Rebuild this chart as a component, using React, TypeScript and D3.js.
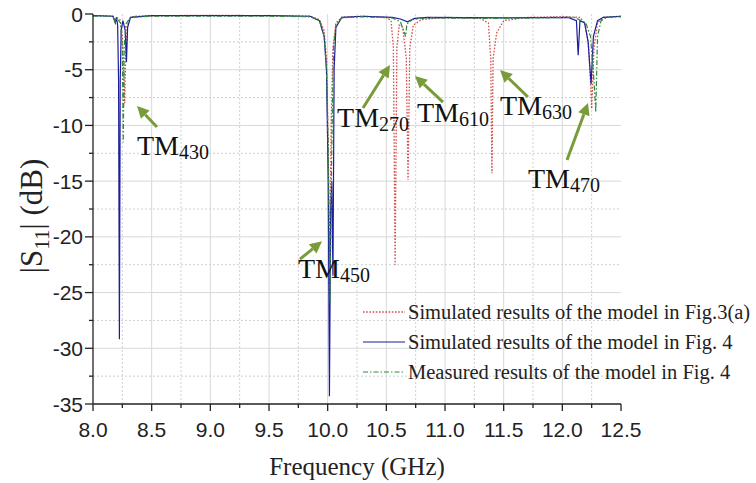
import React from "react";
import * as d3 from "d3";

// Frequency sweep points (GHz, dB) for each trace
const simFig3a: [number, number][] = [
  [8.0, -0.15], [8.1, -0.15], [8.17, -0.2], [8.19, -0.6], [8.2, -0.3], [8.23, -0.5],
  [8.25, -2.0], [8.262, -5], [8.27, -8.0], [8.278, -4], [8.29, -1.2], [8.31, -0.4],
  [8.35, -0.2], [8.6, -0.15], [9.0, -0.12], [9.5, -0.15], [9.85, -0.2], [9.93, -0.5],
  [9.97, -1.5], [9.99, -4], [10.005, -12], [10.015, -25], [10.03, -10], [10.045, -3],
  [10.07, -0.8], [10.12, -0.3], [10.3, -0.2], [10.5, -0.3], [10.54, -0.6], [10.56, -3],
  [10.575, -22.5], [10.59, -3], [10.61, -1], [10.64, -1.2], [10.67, -4], [10.685, -14.9],
  [10.7, -3], [10.73, -1], [10.8, -0.5], [11.0, -0.3], [11.3, -0.4], [11.37, -0.8],
  [11.39, -4], [11.4, -14.3], [11.41, -4], [11.44, -1.7], [11.5, -0.6], [11.7, -0.3],
  [12.0, -0.25], [12.15, -0.3], [12.19, -0.8], [12.22, -2.5], [12.24, -6], [12.25, -8.5],
  [12.27, -3], [12.3, -0.8], [12.35, -0.3], [12.5, -0.2],
];

const simFig4: [number, number][] = [
  [8.0, -0.15], [8.17, -0.2], [8.19, -0.8], [8.2, -0.3], [8.21, -1], [8.218, -6],
  [8.225, -29.2], [8.232, -6], [8.24, -1.5], [8.255, -0.6], [8.275, -1.5], [8.285, -4.3],
  [8.295, -1.2], [8.32, -0.3], [8.5, -0.15], [9.0, -0.15], [9.5, -0.15], [9.85, -0.2],
  [9.93, -0.6], [9.97, -2], [9.99, -5], [10.005, -15], [10.015, -34.3], [10.025, -18],
  [10.035, -15], [10.045, -23.5], [10.055, -5], [10.07, -1.2], [10.12, -0.3], [10.3, -0.2],
  [10.55, -0.3], [10.62, -0.45], [10.68, -0.7], [10.74, -0.4], [10.85, -0.3], [11.5, -0.35],
  [12.05, -0.3], [12.12, -0.6], [12.135, -3.7], [12.15, -0.6], [12.19, -0.8], [12.22, -2.5],
  [12.245, -6.3], [12.265, -2], [12.3, -0.6], [12.35, -0.3], [12.5, -0.2],
];

const measFig4: [number, number][] = [
  [8.0, -0.2], [8.17, -0.2], [8.19, -0.7], [8.205, -0.4], [8.235, -0.8], [8.25, -3],
  [8.258, -11.5], [8.266, -3], [8.28, -0.9], [8.32, -0.3], [8.5, -0.2], [9.0, -0.2],
  [9.5, -0.2], [9.85, -0.25], [9.93, -0.6], [9.97, -2], [9.99, -5], [10.005, -12],
  [10.02, -26], [10.035, -12], [10.05, -3], [10.07, -1], [10.12, -0.35], [10.3, -0.25],
  [10.55, -0.35], [10.62, -0.7], [10.665, -2], [10.675, -0.9], [10.72, -0.5], [10.85, -0.35],
  [11.5, -0.4], [12.1, -0.3], [12.2, -0.8], [12.24, -2], [12.27, -6], [12.285, -8.8],
  [12.3, -2], [12.33, -0.6], [12.38, -0.3], [12.5, -0.25],
];

const xTicks = [8.0, 8.5, 9.0, 9.5, 10.0, 10.5, 11.0, 11.5, 12.0, 12.5];
const yTicks = [0, -5, -10, -15, -20, -25, -30, -35];

const legendLabels = [
  "Simulated results of the model in Fig.3(a)",
  "Simulated results of the model in Fig. 4",
  "Measured results of the model in Fig. 4",
];

// Mode labels: text anchor, arrow tail and arrow head in (GHz, dB)
const modeNames = ["430", "450", "270", "610", "630", "470"];
const modeText: [number, number][] = [
  [8.375, -12.65], [9.747, -23.7], [10.08, -10.14], [10.761, -9.69], [11.469, -9.06], [11.707, -15.6],
];
const modeTail: [number, number][] = [
  [8.545, -10.14], [9.764, -22.0], [10.301, -8.44], [10.983, -7.9], [11.707, -7.45], [12.04, -13.1],
];
const modeHead: [number, number][] = [
  [8.375, -8.26], [9.952, -20.4], [10.531, -4.58], [10.744, -5.56], [11.469, -5.03], [12.219, -7.99],
];

const SANS = "'Liberation Sans', Arial, sans-serif";
const SERIF = "'Liberation Serif', 'Times New Roman', serif";
const ARROW = "#7a9b3a";

export default function App() {
  const W = 756, H = 483;
  const x = d3.scaleLinear().domain([8.0, 12.5]).range([93, 621]);
  const y = d3.scaleLinear().domain([0, -35]).range([14, 404]);

  const line = d3.line<[number, number]>().x((d) => x(d[0])).y((d) => y(d[1]));

  const xMinor = d3.range(8.0, 12.5001, 0.25);
  const yMinor = d3.range(0, -35.001, -2.5);

  const series = [
    { data: simFig3a, color: "#d2504c", dash: "1.6,1.6", width: 1.3 },
    { data: simFig4, color: "#1d1d9c", dash: "none", width: 1.2 },
    { data: measFig4, color: "#2f8a3c", dash: "5,2,1.5,2", width: 1.2 },
  ];

  const arrow = (t: [number, number], h: [number, number], i: number) => {
    const x1 = x(t[0]), y1 = y(t[1]), x2 = x(h[0]), y2 = y(h[1]);
    const ang = Math.atan2(y2 - y1, x2 - x1);
    const L = 12, Wd = 6;
    const bx = x2 - L * Math.cos(ang), by = y2 - L * Math.sin(ang);
    const px = -Math.sin(ang) * Wd, py = Math.cos(ang) * Wd;
    return (
      <g key={"a" + i}>
        <line x1={x1} y1={y1} x2={bx} y2={by} stroke={ARROW} strokeWidth={3} />
        <polygon points={`${x2},${y2} ${bx + px},${by + py} ${bx - px},${by - py}`} fill={ARROW} />
      </g>
    );
  };

  return (
    <svg width={W} height={H} style={{ position: "absolute", left: 0, top: 0, background: "#fff" }}>
      {/* grid */}
      <g>
        {xMinor.filter((v) => v > 8.001 && v < 12.499).map((v, i) => {
          const major = Math.abs(v * 2 - Math.round(v * 2)) < 1e-6;
          return (
            <line key={"gx" + i} x1={x(v)} x2={x(v)} y1={y(0)} y2={y(-35)}
              stroke={major ? "#d8d8d8" : "#cfcfcf"} strokeWidth={1}
              strokeDasharray={major ? "none" : "2,2"} />
          );
        })}
        {yMinor.filter((v) => v < -0.001 && v > -34.999).map((v, i) => {
          const major = Math.abs(v / 5 - Math.round(v / 5)) < 1e-6;
          return (
            <line key={"gy" + i} x1={x(8)} x2={x(12.5)} y1={y(v)} y2={y(v)}
              stroke={major ? "#d8d8d8" : "#cfcfcf"} strokeWidth={1}
              strokeDasharray={major ? "none" : "2,2"} />
          );
        })}
      </g>

      {/* traces */}
      {series.map((s, i) => (
        <path key={"s" + i} d={line(s.data) || ""} fill="none" stroke={s.color}
          strokeWidth={s.width} strokeDasharray={s.dash} />
      ))}

      {/* axes */}
      <g stroke="#222" strokeWidth={1.3}>
        <line x1={x(8)} x2={x(8)} y1={y(0)} y2={y(-35)} />
        <line x1={x(8)} x2={x(12.5)} y1={y(-35)} y2={y(-35)} />
        {xMinor.map((v, i) => {
          const major = Math.abs(v * 2 - Math.round(v * 2)) < 1e-6;
          return <line key={"tx" + i} x1={x(v)} x2={x(v)} y1={y(-35)} y2={y(-35) + (major ? 7 : 4)} />;
        })}
        {yMinor.map((v, i) => {
          const major = Math.abs(v / 5 - Math.round(v / 5)) < 1e-6;
          return <line key={"ty" + i} x1={x(8) - (major ? 8 : 4)} x2={x(8)} y1={y(v)} y2={y(v)} />;
        })}
      </g>
      <g fontFamily={SANS} fontSize={21} fill="#222">
        {xTicks.map((v) => (
          <text key={"lx" + v} x={x(v)} y={437} textAnchor="middle">{v.toFixed(1)}</text>
        ))}
        {yTicks.map((v) => (
          <text key={"ly" + v} x={x(8) - 10} y={y(v) + 7.5} textAnchor="end">{v}</text>
        ))}
      </g>

      {/* axis titles */}
      <text x={357} y={475} textAnchor="middle" fontFamily={SERIF} fontSize={25} fill="#222">
        Frequency (GHz)
      </text>
      <text transform={`translate(42,${216}) rotate(-90)`} textAnchor="middle" fontFamily={SERIF} fontSize={31} fill="#222">
        |S<tspan fontSize={21} dy={7}>11</tspan><tspan dy={-7}>| (dB)</tspan>
      </text>

      {/* mode annotations */}
      {modeNames.map((n, i) => arrow(modeTail[i], modeHead[i], i))}
      <g fontFamily={SERIF} fill="#111">
        {modeNames.map((n, i) => (
          <text key={"m" + n} x={x(modeText[i][0])} y={y(modeText[i][1])} fontSize={28}>
            TM<tspan fontSize={20} dy={4}>{n}</tspan>
          </text>
        ))}
      </g>

      {/* legend */}
      <g fontFamily={SERIF} fontSize={20.5} fill="#222">
        {legendLabels.map((lab, i) => {
          const s = series[i];
          const ly = 312 + i * 30;
          return (
            <g key={"lg" + i}>
              <line x1={363} x2={405} y1={ly} y2={ly} stroke={s.color} strokeWidth={s.width}
                strokeDasharray={s.dash} />
              <text x={408} y={ly + 6.5}>{lab}</text>
            </g>
          );
        })}
      </g>
    </svg>
  );
}
